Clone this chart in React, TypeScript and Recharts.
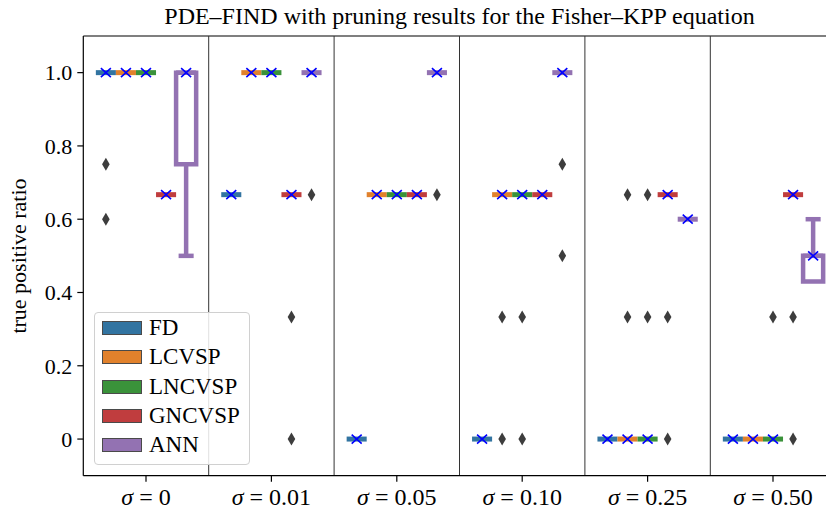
import React from 'react'
import {
  ComposedChart,
  Scatter,
  XAxis,
  YAxis,
  ReferenceLine,
  ReferenceArea,
} from 'recharts'

const sigmaLabels = ['0', '0.01', '0.05', '0.10', '0.25', '0.50']
const methodNames = ['FD', 'LCVSP', 'LNCVSP', 'GNCVSP', 'ANN']
const yTicks = [0, 0.2, 0.4, 0.6, 0.8, 1.0]

// medians, one per sigma
const fdMedian = [1, 0.667, 0, 0, 0, 0]
const lcvspMedian = [1, 1, 0.667, 0.667, 0, 0]
const lncvspMedian = [1, 1, 0.667, 0.667, 0, 0]
const gncvspMedian = [0.667, 0.667, 0.667, 0.667, 0.667, 0.667]
const annMedian = [1, 1, 1, 1, 0.6, 0.5]

// ANN is the only method with an actual box / whiskers
const annQ1 = [0.75, 1, 1, 1, 0.6, 0.43]
const annQ3 = [1, 1, 1, 1, 0.6, 0.5]
const annLow = [0.5, 1, 1, 1, 0.6, 0.43]
const annHigh = [1, 1, 1, 1, 0.6, 0.6]

// means (blue crosses)
const fdMean = [1, 0.667, 0, 0, 0, 0]
const lcvspMean = [1, 1, 0.667, 0.667, 0, 0]
const lncvspMean = [1, 1, 0.667, 0.667, 0, 0]
const gncvspMean = [0.667, 0.667, 0.667, 0.667, 0.667, 0.667]
const annMean = [1, 1, 1, 1, 0.6, 0.5]

// outliers as [sigma index, value]
const fdOutliers = [[0, 0.75], [0, 0.6]]
const lcvspOutliers = [[3, 0.333], [3, 0], [4, 0.667], [4, 0.333]]
const lncvspOutliers = [[3, 0.333], [3, 0], [4, 0.667], [4, 0.333], [5, 0.333]]
const gncvspOutliers = [[1, 0.333], [1, 0], [4, 0.333], [4, 0], [5, 0.333], [5, 0]]
const annOutliers = [[1, 0.667], [2, 0.667], [3, 0.75], [3, 0.5]]

const methodColors = ['#3274a1', '#e1812c', '#3a923a', '#c03d3e', '#9372b2']
const serif = '"Liberation Serif", "DejaVu Serif", serif'

const medians = [fdMedian, lcvspMedian, lncvspMedian, gncvspMedian, annMedian]
const q1s = [fdMedian, lcvspMedian, lncvspMedian, gncvspMedian, annQ1]
const q3s = [fdMedian, lcvspMedian, lncvspMedian, gncvspMedian, annQ3]
const lows = [fdMedian, lcvspMedian, lncvspMedian, gncvspMedian, annLow]
const highs = [fdMedian, lcvspMedian, lncvspMedian, gncvspMedian, annHigh]
const means = [fdMean, lcvspMean, lncvspMean, gncvspMean, annMean]
const outliers = [fdOutliers, lcvspOutliers, lncvspOutliers, gncvspOutliers, annOutliers]

const boxW = 0.16
const dodge = (m: number) => (m - 2) * boxW

const meanPoints = means.flatMap((arr, m) => arr.map((v, g) => ({ x: g + dodge(m), y: v })))
const outlierPoints = outliers.flatMap((arr, m) => arr.map(([g, v]) => ({ x: g + dodge(m), y: v })))

const MeanMark = (p: any) => (
  <path
    d={`M${p.cx - 5},${p.cy - 4.5}L${p.cx + 5},${p.cy + 4.5}M${p.cx - 5},${p.cy + 4.5}L${p.cx + 5},${p.cy - 4.5}`}
    stroke="#0000ff"
    strokeWidth={1.6}
    fill="none"
  />
)

const Diamond = (p: any) => (
  <path
    d={`M${p.cx},${p.cy - 6.5}L${p.cx + 3.8},${p.cy}L${p.cx},${p.cy + 6.5}L${p.cx - 3.8},${p.cy}Z`}
    fill="#3d3d3d"
  />
)

const SigmaTick = ({ x, y, payload }: any) => (
  <text x={x} y={y + 21} textAnchor="middle" fontSize={24} fontFamily={serif} fill="#000">
    <tspan fontStyle="italic">σ</tspan>
    <tspan>{` = ${sigmaLabels[payload.value]}`}</tspan>
  </text>
)

function boxes() {
  const els: React.ReactNode[] = []
  methodNames.forEach((name, m) => {
    const color = methodColors[m]
    sigmaLabels.forEach((_, g) => {
      const c = g + dodge(m)
      const h = boxW / 2
      const q1 = q1s[m][g]
      const q3 = q3s[m][g]
      const lo = lows[m][g]
      const hi = highs[m][g]
      const med = medians[m][g]
      const k = `${name}-${g}`
      if (q3 > q1) {
        els.push(
          <ReferenceArea key={k + 'box'} x1={c - h} x2={c + h} y1={q1} y2={q3}
            fill="none" fillOpacity={0} stroke={color} strokeWidth={4.5} ifOverflow="visible" />
        )
        els.push(
          <ReferenceLine key={k + 'med'} segment={[{ x: c - h, y: med }, { x: c + h, y: med }]}
            stroke={color} strokeWidth={4.5} ifOverflow="visible" />
        )
      } else {
        els.push(
          <ReferenceLine key={k + 'flat'} segment={[{ x: c - h, y: med }, { x: c + h, y: med }]}
            stroke={color} strokeWidth={5} ifOverflow="visible" />
        )
      }
      if (lo < q1) {
        els.push(
          <ReferenceLine key={k + 'wl'} segment={[{ x: c, y: lo }, { x: c, y: q1 }]}
            stroke={color} strokeWidth={4.5} ifOverflow="visible" />,
          <ReferenceLine key={k + 'cl'} segment={[{ x: c - 0.06, y: lo }, { x: c + 0.06, y: lo }]}
            stroke={color} strokeWidth={4.5} ifOverflow="visible" />
        )
      }
      if (hi > q3) {
        els.push(
          <ReferenceLine key={k + 'wh'} segment={[{ x: c, y: q3 }, { x: c, y: hi }]}
            stroke={color} strokeWidth={4.5} ifOverflow="visible" />,
          <ReferenceLine key={k + 'ch'} segment={[{ x: c - 0.06, y: hi }, { x: c + 0.06, y: hi }]}
            stroke={color} strokeWidth={4.5} ifOverflow="visible" />
        )
      }
    })
  })
  return els
}

function BoxLegend() {
  return (
    <div
      style={{
        position: 'absolute', left: 94, top: 312, width: 156, height: 153,
        border: '1px solid #d0d0d0', borderRadius: 4, background: 'rgba(255,255,255,0.85)',
        boxSizing: 'border-box', fontFamily: serif, fontSize: 23,
      }}
    >
      {methodNames.map((name, i) => (
        <div key={name} style={{ position: 'absolute', left: 0, top: 8 + i * 29.25, height: 16, width: 150 }}>
          <div style={{
            position: 'absolute', left: 7, top: 0, width: 40, height: 14,
            background: methodColors[i], border: '1px solid #4a4a4a', boxSizing: 'border-box',
          }} />
          <div style={{ position: 'absolute', left: 54, top: -7, lineHeight: '28px', whiteSpace: 'nowrap', color: '#000' }}>
            {name}
          </div>
        </div>
      ))}
    </div>
  )
}

export default function App() {
  return (
    <div style={{ position: 'absolute', left: 0, top: 0, width: 826, height: 513, overflow: 'hidden', background: '#fff', fontFamily: serif }}>
      <div style={{ position: 'absolute', left: 83.3, top: 0, width: 752.4, textAlign: 'center', fontSize: 24, lineHeight: '32px', color: '#000' }}>
        PDE–FIND with pruning results for the Fisher–KPP equation
      </div>
      <div style={{
        position: 'absolute', left: 19, top: 256, transform: 'translate(-50%, -50%) rotate(-90deg)',
        fontSize: 22, lineHeight: 1, whiteSpace: 'nowrap', color: '#000',
      }}>
        true positive ratio
      </div>
      <ComposedChart width={840} height={513} margin={{ top: 36, right: 4.3, bottom: 0, left: 0 }}>
        <XAxis
          dataKey="x"
          type="number"
          domain={[-0.5, 5.5]}
          ticks={[0, 1, 2, 3, 4, 5]}
          interval={0}
          allowDataOverflow
          height={37.3}
          tickSize={6}
          tickMargin={2}
          tick={<SigmaTick />}
          axisLine={{ stroke: '#000', strokeWidth: 1.2 }}
          tickLine={{ stroke: '#000', strokeWidth: 1.2 }}
        />
        <YAxis
          dataKey="y"
          type="number"
          domain={[-0.1, 1.1]}
          ticks={yTicks}
          interval={0}
          allowDataOverflow
          width={83.3}
          tickSize={6}
          tickMargin={5}
          tickFormatter={(v: number) => (v === 0 ? '0' : v.toFixed(1))}
          tick={{ fill: '#000', fontSize: 22, fontFamily: serif }}
          axisLine={{ stroke: '#000', strokeWidth: 1.2 }}
          tickLine={{ stroke: '#000', strokeWidth: 1.2 }}
        />
        <ReferenceLine y={1.1} stroke="#000" strokeWidth={1.2} ifOverflow="visible" />
        {[0.5, 1.5, 2.5, 3.5, 4.5].map((x) => (
          <ReferenceLine key={x} x={x} stroke="#333" strokeWidth={1} ifOverflow="visible" />
        ))}
        {boxes()}
        <Scatter data={outlierPoints} dataKey="y" shape={<Diamond />} isAnimationActive={false} />
        <Scatter data={meanPoints} dataKey="y" shape={<MeanMark />} isAnimationActive={false} />
      </ComposedChart>
      <BoxLegend />
    </div>
  )
}
